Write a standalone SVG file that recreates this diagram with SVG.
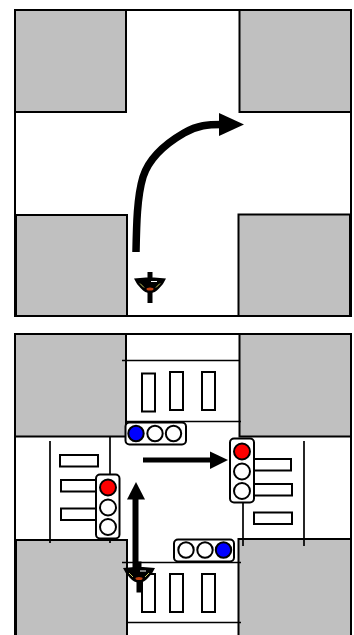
<svg xmlns="http://www.w3.org/2000/svg" width="354" height="635" viewBox="0 0 354 635">
<style>
.b{fill:#c0c0c0;stroke:#000;stroke-width:2}
.f{fill:#fff;stroke:#000;stroke-width:2}
.l{fill:none;stroke:#000;stroke-width:1.7}
.h{fill:#fff;stroke:#000;stroke-width:2}
.a{fill:none;stroke:#000;stroke-width:7.500}
.k{fill:#000}
.c{stroke:#000;stroke-width:2}
</style>
<defs>
<g id="bike">
<path d="M-16-9L-4-10H4L16-9Q14-4 9 1Q5 5.500 0 5.500Q-5 5.500-9 1Q-14-4-16-9Z" fill="#000"/>
<rect x="-2.500" y="-15.500" width="5" height="31" fill="#000"/>
<path d="M-10-4L-6 0M10-4L6 0" stroke="#c8c860" stroke-width="1" fill="none"/>
<path d="M1-6H7" stroke="#fff" stroke-width="1"/>
<ellipse cx="0" cy="1.500" rx="3.500" ry="1.500" fill="#c04010"/>
</g>
</defs>
<rect id="frame-top" x="15" y="10" width="336" height="306" fill="#fff" stroke="#000" stroke-width="2"/>
<g id="block-top-nw"><rect class="b" x="15" y="10" width="111" height="102"/></g>
<g id="block-top-ne"><rect class="b" x="239.500" y="10" width="111.500" height="102"/></g>
<g id="block-top-sw"><rect class="b" x="16" y="215" width="111" height="101"/></g>
<g id="block-top-se"><rect class="b" x="238.500" y="214.500" width="111.500" height="101.500"/></g>
<g id="bike-top"><use href="#bike" x="150" y="287.500"/></g>
<rect id="frame-bottom" x="15" y="334" width="336" height="310" fill="#fff" stroke="#000" stroke-width="2"/>
<g id="block-bottom-nw"><rect class="b" x="15" y="334" width="111" height="102.500"/></g>
<g id="block-bottom-ne"><rect class="b" x="239.500" y="334" width="111.500" height="102.500"/></g>
<g id="block-bottom-sw"><rect class="b" x="16" y="540" width="111" height="105"/></g>
<g id="block-bottom-se"><rect class="b" x="238.500" y="539" width="112.500" height="106"/></g>
<g id="crosswalk-north">
<path class="l" d="M122 360.500H240M126 421.500H241"/>
<rect class="h" x="142" y="373.500" width="13" height="38"/><rect class="h" x="170" y="372" width="13" height="38"/><rect class="h" x="202" y="372" width="13" height="38"/>
</g>
<g id="crosswalk-west">
<path class="l" d="M50 441V543M110 437V543"/>
<rect class="h" x="60" y="455" width="38" height="11.500"/><rect class="h" x="61" y="480" width="38" height="11.500"/><rect class="h" x="61" y="508.500" width="38" height="11.500"/>
</g>
<g id="crosswalk-east">
<path class="l" d="M304 441V546M243 500V546"/>
<rect class="h" x="253" y="459" width="38" height="11.500"/><rect class="h" x="254" y="484" width="38" height="11.500"/><rect class="h" x="254" y="512.500" width="38" height="11.500"/>
</g>
<g id="crosswalk-south">
<path class="l" d="M122 562.500H241M127 622.500H241"/>
<rect class="h" x="142" y="574" width="13" height="38"/><rect class="h" x="170" y="574" width="13" height="38"/><rect class="h" x="202" y="574" width="13" height="38"/>
</g>
<g id="connectors">
<path class="a" d="M136 252C136.500 225 137 197 143 177C149 158 165 144 184 133C198 125 208 124.500 222 124.500"/>
<path class="k" d="M219 113L244 124.500L219 136Z"/>
<path d="M143 460H212" fill="none" stroke="#000" stroke-width="5"/>
<path class="k" d="M210 451.500L228 460L210 469Z"/>
<path d="M135.500 580V498" fill="none" stroke="#000" stroke-width="6"/>
<path class="k" d="M127 499.500L136 482L145 499.500Z"/>
</g>
<g id="light-north">
<rect class="f" x="125.500" y="422.500" width="60.500" height="22" rx="4"/>
<circle class="c" cx="136" cy="433.500" r="7.700" fill="#0000ff"/>
<circle class="c" cx="155" cy="433.500" r="7.700" fill="#fff"/>
<circle class="c" cx="173.500" cy="433.500" r="7.700" fill="#fff"/>
</g>
<g id="light-east">
<rect class="f" x="230" y="438.500" width="24" height="64" rx="4"/>
<circle class="c" cx="242" cy="451.500" r="8" fill="#ff0000"/>
<circle class="c" cx="242" cy="471.500" r="8" fill="#fff"/>
<circle class="c" cx="242" cy="491" r="8" fill="#fff"/>
</g>
<g id="light-west">
<rect class="f" x="96" y="474.500" width="23.500" height="64" rx="4"/>
<circle class="c" cx="108" cy="487.500" r="8" fill="#ff0000"/>
<circle class="c" cx="108" cy="507.500" r="8" fill="#fff"/>
<circle class="c" cx="108" cy="527" r="8" fill="#fff"/>
</g>
<g id="light-south">
<rect class="f" x="174" y="539.500" width="60" height="22" rx="4"/>
<circle class="c" cx="186" cy="550" r="7.700" fill="#fff"/>
<circle class="c" cx="205" cy="550" r="7.700" fill="#fff"/>
<circle class="c" cx="223.500" cy="550" r="7.700" fill="#0000ff"/>
</g>
<g id="bike-bottom"><use href="#bike" x="139" y="577"/></g>
</svg>
